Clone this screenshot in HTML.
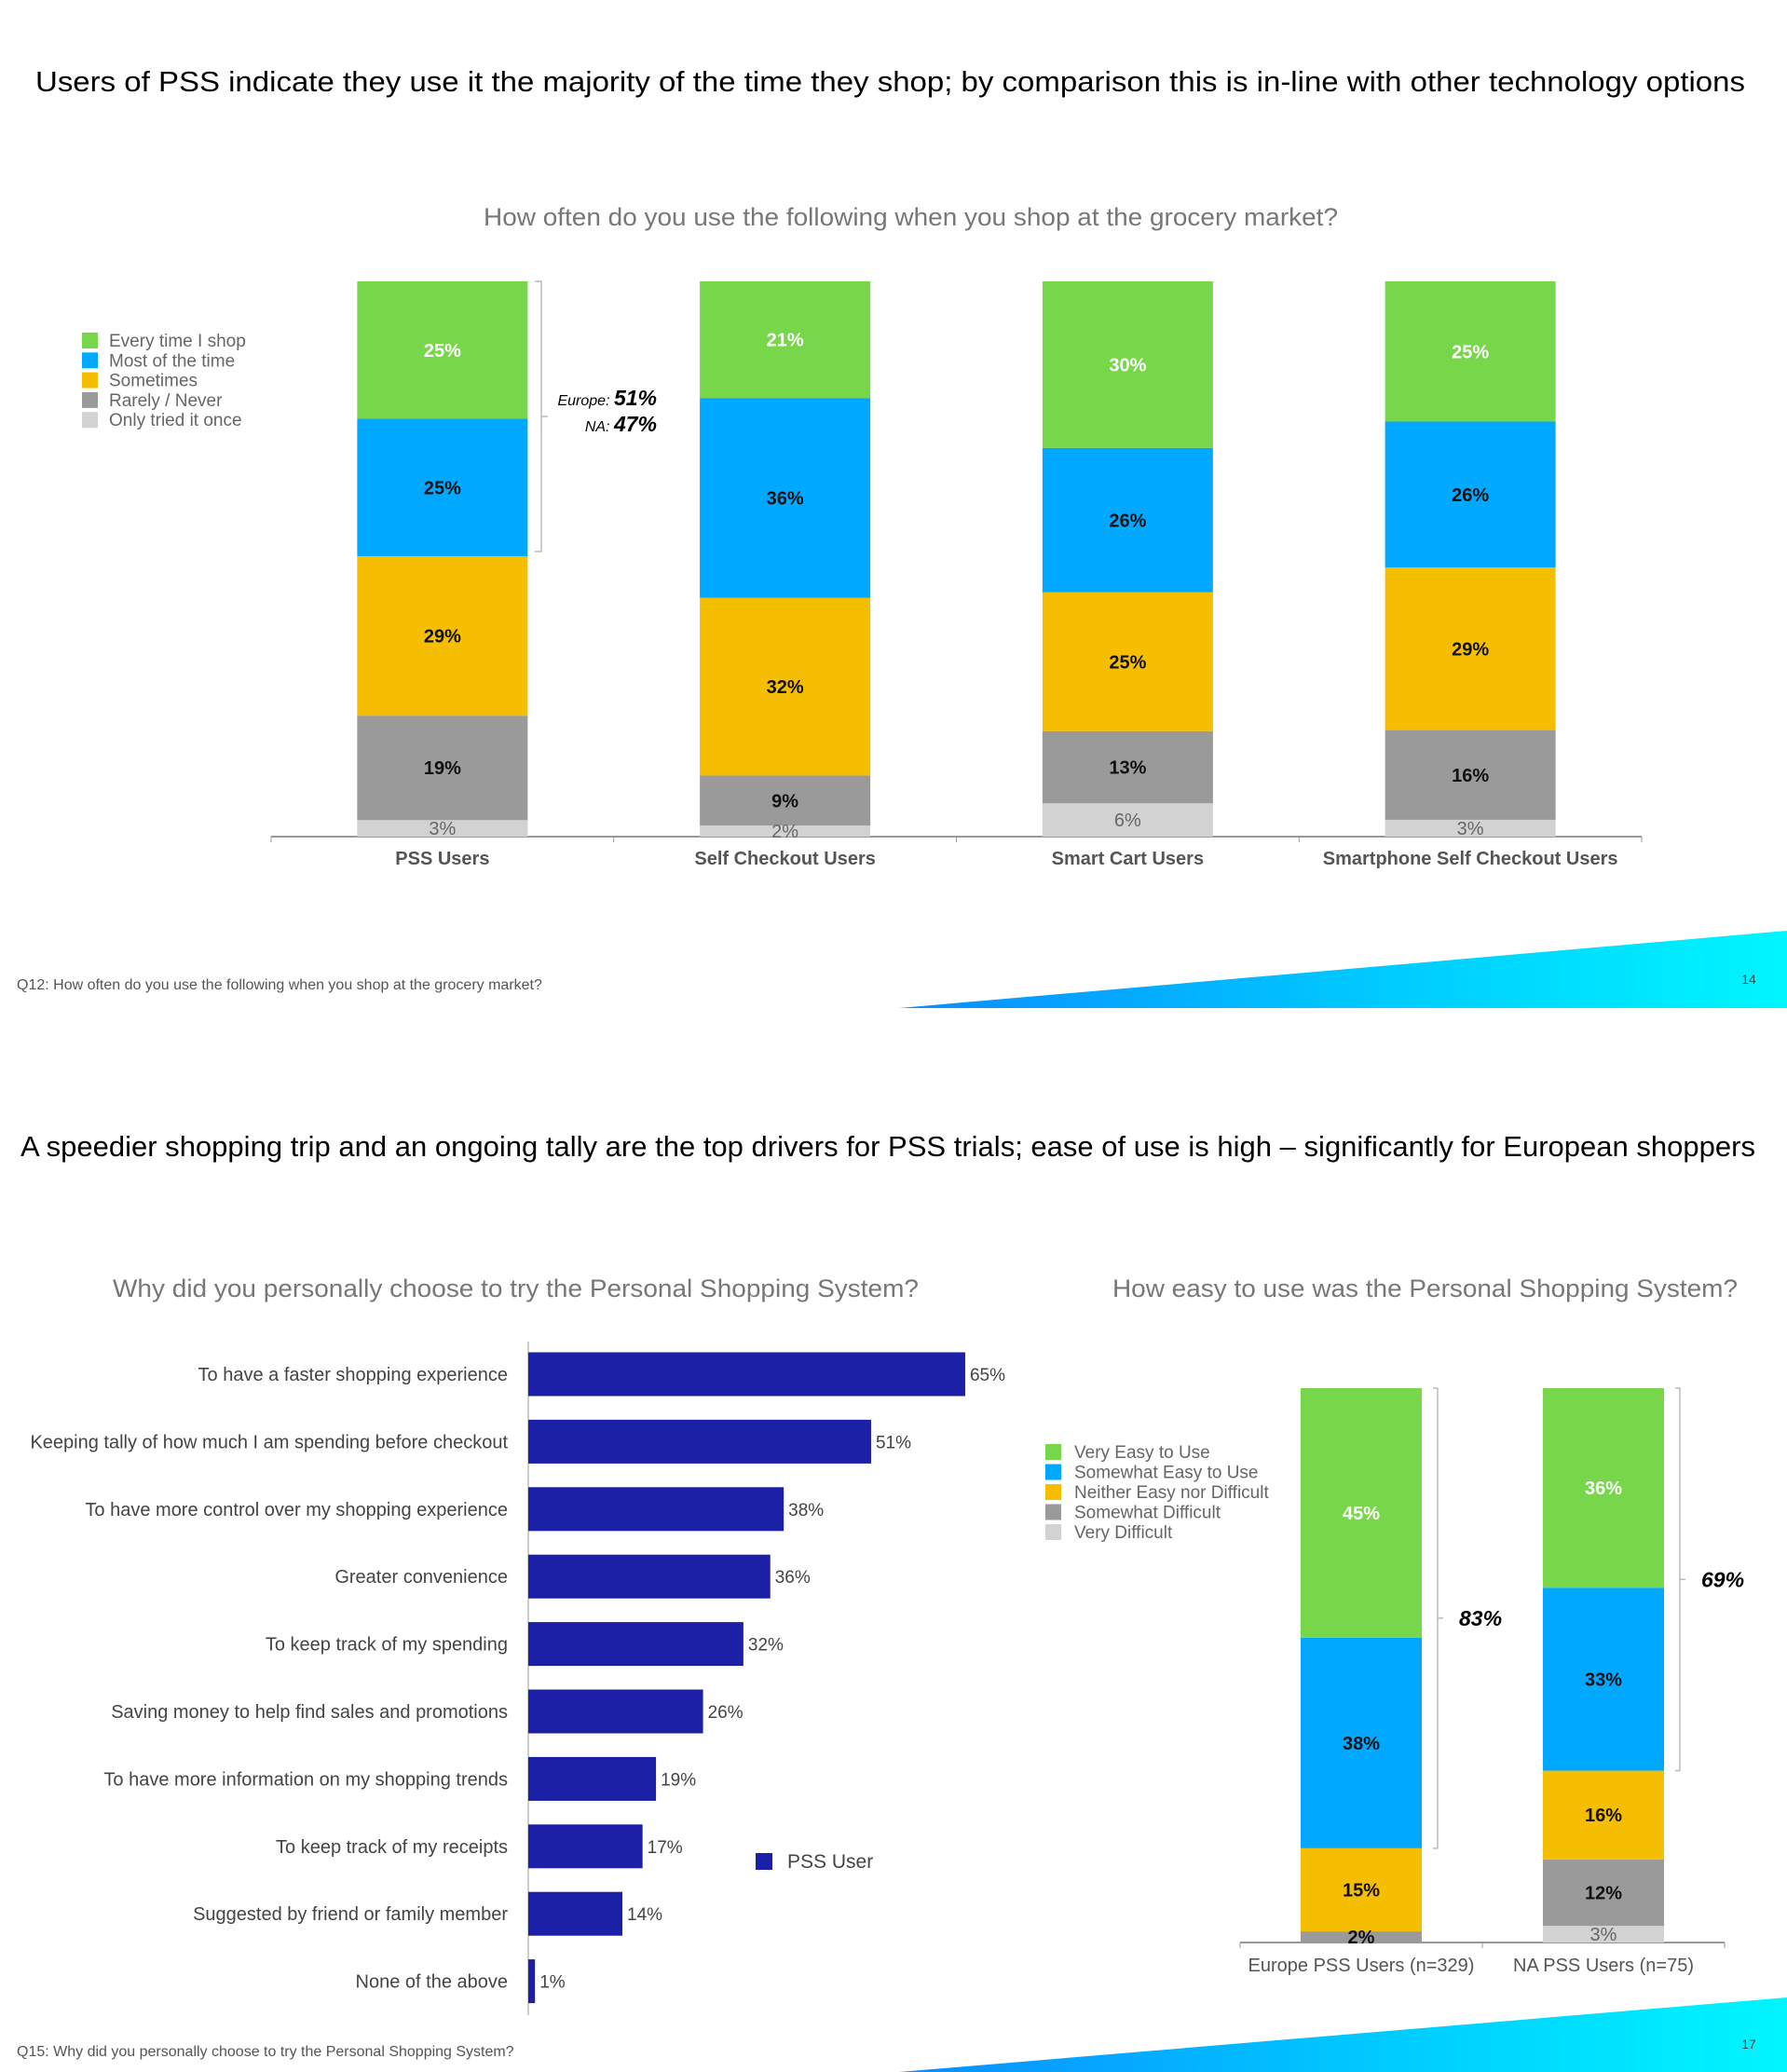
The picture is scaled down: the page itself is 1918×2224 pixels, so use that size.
<!DOCTYPE html>
<html><head><meta charset="utf-8">
<style>
html,body{margin:0;padding:0;background:#fff;}
svg{display:block;font-family:"Liberation Sans",Arial,sans-serif;}
</style></head>
<body>
<svg id="page" width="1918" height="2224" viewBox="0 0 1918 2224" xmlns="http://www.w3.org/2000/svg">
<defs>
<linearGradient id="wedge" x1="0" x2="1" y1="0" y2="0">
<stop offset="0" stop-color="#0a8cff"/><stop offset="0.5" stop-color="#00c6ff"/><stop offset="1" stop-color="#00f6ff"/>
</linearGradient>
</defs>
<!-- Slide 1 -->
<text x="38" y="98" font-size="31" fill="#000" textLength="1835" lengthAdjust="spacingAndGlyphs">Users of PSS indicate they use it the majority of the time they shop; by comparison this is in-line with other technology options</text>
<text x="519" y="242" font-size="27" fill="#777" textLength="917" lengthAdjust="spacingAndGlyphs">How often do you use the following when you shop at the grocery market?</text>
<g id="c1"></g>
<text x="18" y="1062" font-size="16" fill="#555">Q12: How often do you use the following when you shop at the grocery market?</text>
<polygon points="965,1082 1918,999 1918,1082" fill="url(#wedge)"/>
<text x="1877" y="1056" font-size="14" fill="#444" text-anchor="middle">14</text>

<!-- Slide 2 -->
<text x="22" y="1241" font-size="31" fill="#000" textLength="1862" lengthAdjust="spacingAndGlyphs">A speedier shopping trip and an ongoing tally are the top drivers for PSS trials; ease of use is high – significantly for European shoppers</text>
<text x="121" y="1392" font-size="27" fill="#777" textLength="865" lengthAdjust="spacingAndGlyphs">Why did you personally choose to try the Personal Shopping System?</text>
<text x="1194" y="1392" font-size="27" fill="#777" textLength="671" lengthAdjust="spacingAndGlyphs">How easy to use was the Personal Shopping System?</text>
<g id="c2"></g>
<g id="c3"></g>
<text x="18" y="2207" font-size="16" fill="#555">Q15: Why did you personally choose to try the Personal Shopping System?</text>
<polygon points="965,2224 1918,2144 1918,2224" fill="url(#wedge)"/>
<text x="1877" y="2199" font-size="14" fill="#444" text-anchor="middle">17</text>
</svg>
<script>
const NS="http://www.w3.org/2000/svg";
function mk(parent,tag,attrs,text){const e=document.createElementNS(NS,tag);for(const k in attrs)e.setAttribute(k,attrs[k]);if(text!==undefined)e.textContent=text;parent.appendChild(e);return e;}
const COLORS=["#78d64b","#00a9ff","#f5be00","#9a9a9a","#d2d2d2"];
const LABELCOL=["#fff","#111","#111","#111","#666"];

// ---- Chart 1 data ----
const c1Categories=["PSS Users","Self Checkout Users","Smart Cart Users","Smartphone Self Checkout Users"];
const c1Series=["Every time I shop","Most of the time","Sometimes","Rarely / Never","Only tried it once"];
const c1Every=[25,21,30,25];
const c1Most=[25,36,26,26];
const c1Some=[29,32,25,29];
const c1Rarely=[19,9,13,16];
const c1Once=[3,2,6,3];

// ---- Chart 2 data ----
const c2Categories=["To have a faster shopping experience","Keeping tally of how much I am spending before checkout","To have more control over my shopping experience","Greater convenience","To keep track of my spending","Saving money to help find sales and promotions","To have more information on my shopping trends","To keep track of my receipts","Suggested by friend or family member","None of the above"];
const c2Values=[65,51,38,36,32,26,19,17,14,1];

// ---- Chart 3 data ----
const c3Categories=["Europe PSS Users (n=329)","NA PSS Users (n=75)"];
const c3Series=["Very Easy to Use","Somewhat Easy to Use","Neither Easy nor Difficult","Somewhat Difficult","Very Difficult"];
const c3VeryEasy=[45,36];
const c3SomeEasy=[38,33];
const c3Neither=[15,16];
const c3SomeDiff=[2,12];
const c3VeryDiff=[0,3];
const c3Totals=["83%","69%"];

function stacked(g,series,i,cx,bw,top,base){
 let tot=0;series.forEach(s=>tot+=s[i]);
 const k=(base-top)/tot;
 let y=base;const labels=[];
 for(let j=series.length-1;j>=0;j--){
  const v=series[j][i],h=v*k;y-=h;
  if(v<=0)continue;
  const r=mk(g,'rect',{x:cx-bw/2,y:y,width:bw,height:h,fill:COLORS[j]});
  
  
  labels.push([v,j,y+h/2+7]);
 }
 labels.forEach(([v,j,ly])=>{
  const t=mk(g,'text',{x:cx,y:ly,'font-size':20,'font-weight':j==4?'normal':'bold','text-anchor':'middle',fill:LABELCOL[j]},v+'%');
  
  
 });
 return k;
}

// Chart 1
(function(){
 const g=document.getElementById('c1');
 const series=[c1Every,c1Most,c1Some,c1Rarely,c1Once];
 const top=302,base=898,x0=291,x1=1762,bw=183;
 const slot=(x1-x0)/c1Categories.length;
 const ax=mk(g,'line',{x1:x0,x2:x1,y1:base,y2:base,stroke:'#999','stroke-width':2});
 
 for(let i=0;i<=c1Categories.length;i++){const t=mk(g,'line',{x1:x0+slot*i,x2:x0+slot*i,y1:base,y2:base+6,stroke:'#999','stroke-width':1});}
 c1Categories.forEach((c,i)=>{
  const cx=x0+slot*(i+0.5);
  stacked(g,series,i,cx,bw,top,base);
  const cl=mk(g,'text',{x:cx,y:928,'font-size':20,'font-weight':'bold','text-anchor':'middle',fill:'#555'},c);
  
 });
 const br=mk(g,'path',{d:'M574 302 H581 V592 H574 M581 447 H588',fill:'none',stroke:'#bbb','stroke-width':1.5});
 
 const e1=mk(g,'text',{x:705,y:435,'text-anchor':'end','font-style':'italic',fill:'#000'});
 
 mk(e1,'tspan',{'font-size':16},'Europe: ');mk(e1,'tspan',{'font-size':23,'font-weight':'bold'},'51%');
 const e2=mk(g,'text',{x:705,y:463,'text-anchor':'end','font-style':'italic',fill:'#000'});
 
 mk(e2,'tspan',{'font-size':16},'NA: ');mk(e2,'tspan',{'font-size':23,'font-weight':'bold'},'47%');
 c1Series.forEach((s,j)=>{
  const y=357+j*21.3;
  const sq=mk(g,'rect',{x:88,y:y,width:17,height:17,fill:COLORS[j]});
  
  const t=mk(g,'text',{x:117,y:y+15,'font-size':19,fill:'#666'},s);
  
 });
})();

// Chart 2
(function(){
 const g=document.getElementById('c2');
 const ax0=567, pxPer=7.215, y0=1475, step=72.4, bh=47;
 const xs=v=>ax0+v*pxPer;
 const ax=mk(g,'line',{x1:ax0,x2:ax0,y1:1440,y2:2163,stroke:'#ccc','stroke-width':2});
 
 c2Categories.forEach((c,i)=>{
  const cy=y0+i*step;
  const r=mk(g,'rect',{x:ax0,y:cy-bh/2,width:xs(c2Values[i])-ax0,height:bh,fill:'#1c20a6'});
  
  const v=mk(g,'text',{x:xs(c2Values[i])+5,y:cy+7,'font-size':19,fill:'#444'},c2Values[i]+'%');
  
  const t=mk(g,'text',{x:545,y:cy+7,'font-size':20,fill:'#444','text-anchor':'end'},c);
  
 });
 const sq=mk(g,'rect',{x:811,y:1989,width:18,height:18,fill:'#1c20a6'});
 
 const lt=mk(g,'text',{x:845,y:2005,'font-size':21,fill:'#444'},'PSS User');
 
})();

// Chart 3
(function(){
 const g=document.getElementById('c3');
 const series=[c3VeryEasy,c3SomeEasy,c3Neither,c3SomeDiff,c3VeryDiff];
 const top=1490,base=2085,x0=1331,x1=1851,bw=130;
 const slot=(x1-x0)/c3Categories.length;
 const ax=mk(g,'line',{x1:x0,x2:x1,y1:base,y2:base,stroke:'#999','stroke-width':2});
 
 for(let i=0;i<=c3Categories.length;i++){const t=mk(g,'line',{x1:x0+slot*i,x2:x0+slot*i,y1:base,y2:base+6,stroke:'#999'});}
 c3Categories.forEach((c,i)=>{
  const cx=x0+slot*(i+0.5),bx=cx-bw/2;
  const k=stacked(g,series,i,cx,bw,top,base);
  const cl=mk(g,'text',{x:cx,y:2116,'font-size':20,'text-anchor':'middle',fill:'#555'},c);
  
  const bt=top+(series[0][i]+series[1][i])*k;
  const bxr=bx+bw+17, mid=(top+bt)/2;
  const br=mk(g,'path',{d:`M${bxr-5} ${top} H${bxr} V${bt} H${bxr-5} M${bxr} ${mid} H${bxr+6}`,fill:'none',stroke:'#bbb','stroke-width':1.5});
  
  const tt=mk(g,'text',{x:bxr+23,y:mid+8,'font-size':23,'font-weight':'bold','font-style':'italic',fill:'#000'},c3Totals[i]);
  
 });
 c3Series.forEach((s,j)=>{
  const y=1550+j*21.5;
  const sq=mk(g,'rect',{x:1122,y:y,width:17,height:17,fill:COLORS[j]});
  
  const t=mk(g,'text',{x:1153,y:y+15,'font-size':19,fill:'#666'},s);
  
 });
})();
</script>
</body></html>
